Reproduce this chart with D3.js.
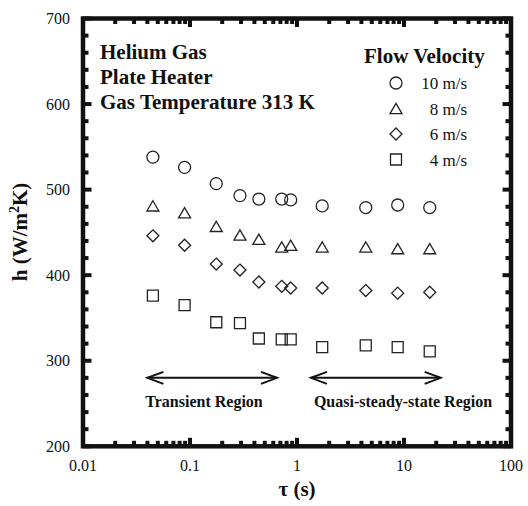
<!DOCTYPE html>
<html>
<head>
<meta charset="utf-8">
<script src="https://cdn.jsdelivr.net/npm/d3@7"></script>
<style>
  html, body { margin: 0; padding: 0; background: #fff; }
  svg { display: block; }
  text { font-family: "Liberation Serif", "Times New Roman", serif; fill: #111; }
</style>
</head>
<body>
<svg id="chart" width="528" height="506"></svg>
<script>
// ---- data ----
const tau = [0.045, 0.089, 0.176, 0.293, 0.44, 0.72, 0.873, 1.72, 4.39, 8.73, 17.4];
const h10 = [538, 526, 507, 493, 489, 489, 488, 481, 479, 482, 479];
const h8  = [481, 473, 457, 447, 442, 433, 435, 433, 433, 431, 431];
const h6  = [446, 435, 413, 406, 392, 387, 385, 385, 382, 379, 380];
const h4  = [376, 365, 345, 344, 326, 325, 325, 316, 318, 316, 311];
const seriesNames = ["10 m/s", "8 m/s", "6 m/s", "4 m/s"];
const seriesShapes = ["circle", "triangle", "diamond", "square"];
const xTickValues = [0.01, 0.1, 1, 10, 100];
const xTickLabels = ["0.01", "0.1", "1", "10", "100"];
const yTickValues = [200, 300, 400, 500, 600, 700];
const yTickLabels = ["200", "300", "400", "500", "600", "700"];
const infoLines = ["Helium Gas", "Plate Heater", "Gas Temperature 313 K"];
const legendTitle = "Flow Velocity";
const transientRange = [0.04, 0.65];
const quasiRange = [1.35, 22];
const arrowLevel = 280;
const regionLabels = ["Transient Region", "Quasi-steady-state Region"];

// ---- layout ----
const svg = d3.select("#chart");
const L = 83, T = 18.5, R = 511, B = 446.3;
const x = d3.scaleLog().domain([0.01, 100]).range([L, R]);
const y = d3.scaleLinear().domain([200, 700]).range([B, T]);
const ink = "#111";

// symbols
const symCircle = { draw(c, s) { const r = Math.sqrt(s / Math.PI); c.moveTo(r, 0); c.arc(0, 0, r, 0, 2 * Math.PI); } };
const symSquare = { draw(c, s) { const a = Math.sqrt(s) / 2; c.moveTo(-a, -a); c.lineTo(a, -a); c.lineTo(a, a); c.lineTo(-a, a); c.closePath(); } };
const symDiamond = { draw(c, s) { const a = Math.sqrt(s) / 2; c.moveTo(0, -a); c.lineTo(a, 0); c.lineTo(0, a); c.lineTo(-a, 0); c.closePath(); } };
const symTriangle = { draw(c, s) { const w = Math.sqrt(s) / 2; const h = w * 0.85; c.moveTo(0, -h); c.lineTo(w, h); c.lineTo(-w, h); c.closePath(); } };
const shapeMap = {
  circle: d3.symbol().type(symCircle).size(Math.PI * 36),
  square: d3.symbol().type(symSquare).size(121),
  diamond: d3.symbol().type(symDiamond).size(144),
  triangle: d3.symbol().type(symTriangle).size(144)
};

// ---- ticks ----
const tickG = svg.append("g");
const majorLen = 8.5, minorLen = 5.5, tickW = 4;
const xMinor = [];
for (let d = 0.01; d < 100; d *= 10) for (let k = 2; k <= 9; k++) xMinor.push(+(d * k).toPrecision(3));
const yMinor = d3.range(220, 700, 20).filter(v => v % 100 !== 0);

function xTicks(vals, len) {
  vals.forEach(v => {
    tickG.append("line").attr("x1", x(v)).attr("x2", x(v)).attr("y1", B).attr("y2", B - len)
      .attr("stroke", ink).attr("stroke-width", tickW);
    tickG.append("line").attr("x1", x(v)).attr("x2", x(v)).attr("y1", T).attr("y2", T + len)
      .attr("stroke", ink).attr("stroke-width", tickW);
  });
}
function yTicks(vals, len) {
  vals.forEach(v => {
    tickG.append("line").attr("x1", L).attr("x2", L + len).attr("y1", y(v)).attr("y2", y(v))
      .attr("stroke", ink).attr("stroke-width", tickW);
    tickG.append("line").attr("x1", R).attr("x2", R - len).attr("y1", y(v)).attr("y2", y(v))
      .attr("stroke", ink).attr("stroke-width", tickW);
  });
}
xTicks(xMinor, minorLen);
xTicks(xTickValues, majorLen);
yTicks(yMinor, minorLen);
yTicks(yTickValues, majorLen);

// frame
svg.append("rect").attr("x", L).attr("y", T).attr("width", R - L).attr("height", B - T)
  .attr("fill", "none").attr("stroke", ink).attr("stroke-width", 4.5);

// tick labels
svg.append("g").selectAll("text").data(xTickValues).join("text")
  .attr("x", d => x(d)).attr("y", 471).attr("text-anchor", "middle")
  .attr("font-size", 16).text((d, i) => xTickLabels[i]);
svg.append("g").selectAll("text").data(yTickValues).join("text")
  .attr("x", 70).attr("y", d => y(d) + 5.5).attr("text-anchor", "end")
  .attr("font-size", 16).text((d, i) => yTickLabels[i]);

// axis titles
const yt = svg.append("text").attr("transform", "translate(27,232) rotate(-90)")
  .attr("text-anchor", "middle").attr("font-size", 21).attr("font-weight", "bold");
yt.append("tspan").text("h (W/m");
yt.append("tspan").attr("dy", -8).attr("font-size", 14).text("2");
yt.append("tspan").attr("dy", 8).text("K)");
svg.append("text").attr("x", 297).attr("y", 496).attr("text-anchor", "middle")
  .attr("font-size", 21).attr("font-weight", "bold").text("τ (s)");

// data points
const allSeries = [h10, h8, h6, h4];
allSeries.forEach((vals, si) => {
  svg.append("g").selectAll("path").data(vals).join("path")
    .attr("transform", (d, i) => `translate(${x(tau[i])},${y(d)})`)
    .attr("d", shapeMap[seriesShapes[si]]())
    .attr("fill", "none").attr("stroke", "#222").attr("stroke-width", 1.3);
});

// info text
svg.append("g").selectAll("text").data(infoLines).join("text")
  .attr("x", 100).attr("y", (d, i) => 59 + i * 25)
  .attr("font-size", 21).attr("font-weight", "bold").text(d => d);

// legend
svg.append("text").attr("x", 364).attr("y", 63).attr("font-size", 21).attr("font-weight", "bold").text(legendTitle);
seriesNames.forEach((name, i) => {
  const cy = 83 + i * 25.5;
  svg.append("path").attr("transform", `translate(396,${cy})`).attr("d", shapeMap[seriesShapes[i]]())
    .attr("fill", "none").attr("stroke", "#222").attr("stroke-width", 1.3);
  svg.append("text").attr("x", 467).attr("y", cy + 6).attr("text-anchor", "end")
    .attr("font-size", 17).text(name);
});

// arrows
function dblArrow(range) {
  const x1 = x(range[0]), x2 = x(range[1]), yy = y(arrowLevel);
  const g = svg.append("g").attr("stroke", ink).attr("stroke-width", 2).attr("fill", "none");
  g.append("line").attr("x1", x1).attr("x2", x2).attr("y1", yy).attr("y2", yy);
  g.append("path").attr("d", `M${x1 + 16},${yy - 6}L${x1},${yy}L${x1 + 16},${yy + 6}`);
  g.append("path").attr("d", `M${x2 - 16},${yy - 6}L${x2},${yy}L${x2 - 16},${yy + 6}`);
}
dblArrow(transientRange);
dblArrow(quasiRange);
svg.append("text").attr("x", 204).attr("y", 407).attr("text-anchor", "middle")
  .attr("font-size", 16).attr("font-weight", "bold").text(regionLabels[0]);
svg.append("text").attr("x", 403).attr("y", 407).attr("text-anchor", "middle")
  .attr("font-size", 16).attr("font-weight", "bold").text(regionLabels[1]);
</script>
</body>
</html>
